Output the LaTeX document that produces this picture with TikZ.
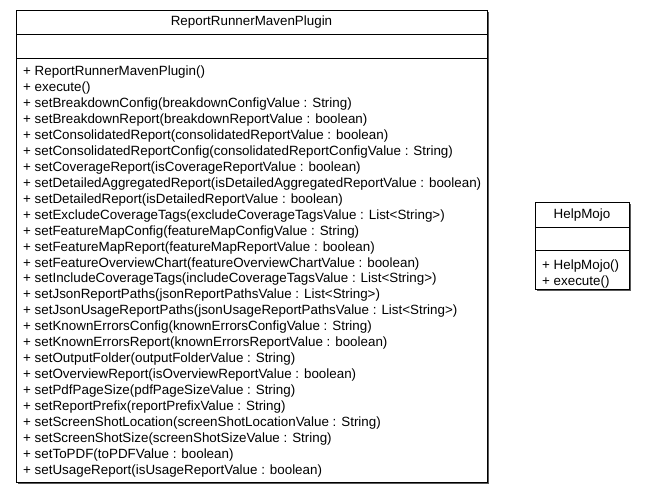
\documentclass[tikz,border=0pt]{standalone}
\usepackage{fontspec}
\setmainfont{Liberation Sans}
\begin{document}
\begin{tikzpicture}[x=1pt,y=-1pt,
  umltext/.style={inner sep=0pt, font=\fontsize{13.38}{15.96}\selectfont, align=left},
  boxline/.style={draw=black, line width=0.9pt},
  shadowbox/.style={fill=black!65, draw=none}]
\useasboundingbox (0,0) rectangle (645,493);
% ---- ReportRunnerMavenPlugin ----
\fill[shadowbox] (18,12) rectangle (489,484);
\node[boxline, fill=white, anchor=north west, minimum width=471pt, minimum height=472pt, inner sep=0pt] (main) at (16,10) {};
\draw[boxline] (16,34) -- (487,34);
\draw[boxline] (16,58) -- (487,58);
\node[umltext] (mainTitle) at (251.5,22.5) {ReportRunnerMavenPlugin};
\node[umltext, anchor=base west] (mainOps) at (23,474.5) {%
+ ReportRunnerMavenPlugin()\\
+ execute()\\
+ setBreakdownConfig(breakdownConfigValue : String)\\
+ setBreakdownReport(breakdownReportValue : boolean)\\
+ setConsolidatedReport(consolidatedReportValue : boolean)\\
+ setConsolidatedReportConfig(consolidatedReportConfigValue : String)\\
+ setCoverageReport(isCoverageReportValue : boolean)\\
+ setDetailedAggregatedReport(isDetailedAggregatedReportValue : boolean)\\
+ setDetailedReport(isDetailedReportValue : boolean)\\
+ setExcludeCoverageTags(excludeCoverageTagsValue : List<String>)\\
+ setFeatureMapConfig(featureMapConfigValue : String)\\
+ setFeatureMapReport(featureMapReportValue : boolean)\\
+ setFeatureOverviewChart(featureOverviewChartValue : boolean)\\
+ setIncludeCoverageTags(includeCoverageTagsValue : List<String>)\\
+ setJsonReportPaths(jsonReportPathsValue : List<String>)\\
+ setJsonUsageReportPaths(jsonUsageReportPathsValue : List<String>)\\
+ setKnownErrorsConfig(knownErrorsConfigValue : String)\\
+ setKnownErrorsReport(knownErrorsReportValue : boolean)\\
+ setOutputFolder(outputFolderValue : String)\\
+ setOverviewReport(isOverviewReportValue : boolean)\\
+ setPdfPageSize(pdfPageSizeValue : String)\\
+ setReportPrefix(reportPrefixValue : String)\\
+ setScreenShotLocation(screenShotLocationValue : String)\\
+ setScreenShotSize(screenShotSizeValue : String)\\
+ setToPDF(toPDFValue : boolean)\\
+ setUsageReport(isUsageReportValue : boolean)};
% ---- HelpMojo ----
\fill[shadowbox] (537,204) rectangle (631,291);
\node[boxline, fill=white, anchor=north west, minimum width=94pt, minimum height=87pt, inner sep=0pt] (help) at (535,202) {};
\draw[boxline] (535,227) -- (629,227);
\draw[boxline] (535,250.5) -- (629,250.5);
\node[umltext] (helpTitle) at (582,215) {HelpMojo};
\node[umltext, anchor=base west] (helpOps) at (542,285.5) {%
+ HelpMojo()\\
+ execute()};
\end{tikzpicture}
\end{document}
